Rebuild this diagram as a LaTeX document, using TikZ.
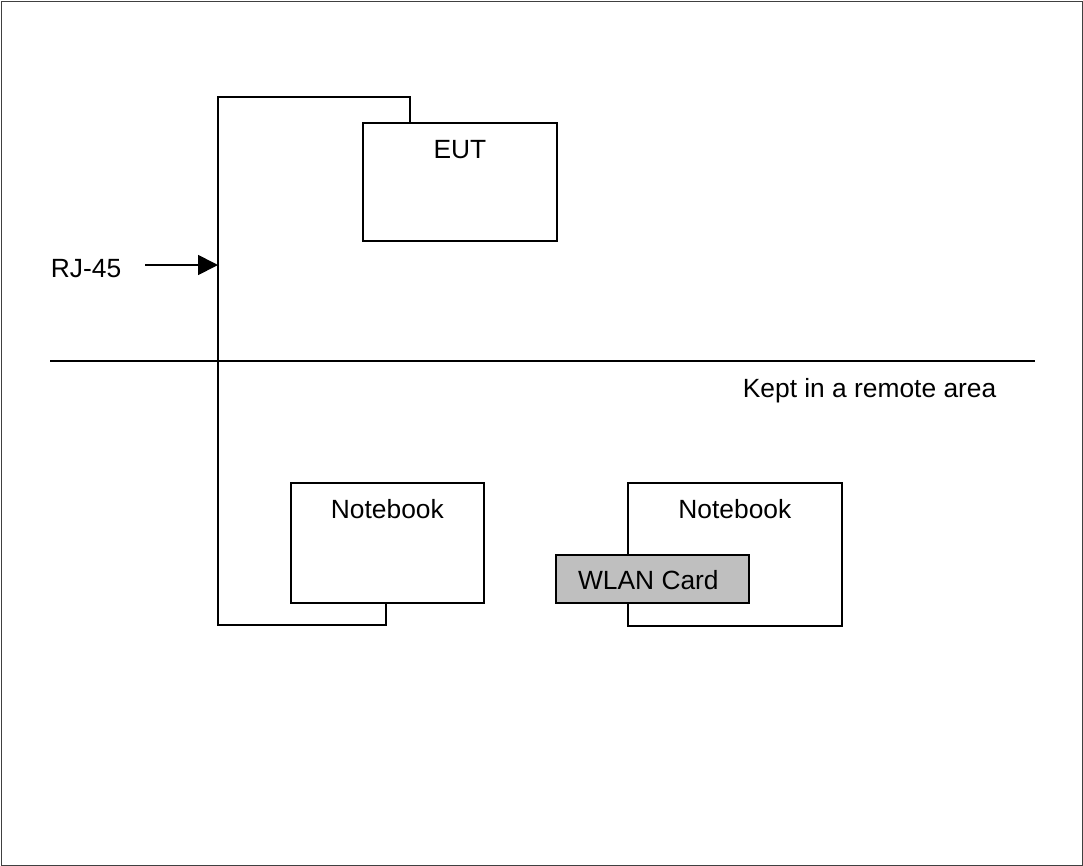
\documentclass[tikz,border=0pt]{standalone}
\usepackage{fontspec}
\setmainfont{Liberation Sans}
\usetikzlibrary{calc}
\usetikzlibrary{arrows.meta}
\tikzset{unit box/.style={draw,rectangle,inner sep=0pt,anchor=north west}}
\tikzset{unit text/.style={font=\fontsize{15}{18}\selectfont,inner sep=0pt}}

\begin{document}
\begin{tikzpicture}[x=0.02cm,y=-0.02cm,line width=1pt,line cap=rect]
	\useasboundingbox (0,0) rectangle (1083,866);
	\draw[line width=0.4pt,black!75] (1,1) rectangle (1082,865);

	% the units
	\node[unit box,minimum width=3.88cm,minimum height=2.36cm] (eut) at (362,122) {};
	\node[unit text,anchor=base] at ($(eut.north)+(0,36)$) {EUT};

	\node[unit box,minimum width=3.86cm,minimum height=2.4cm] (nbwired) at (290,482) {};
	\node[unit text,anchor=base] at ($(nbwired.north)+(0,36)$) {Notebook};

	\node[unit box,minimum width=4.28cm,minimum height=2.86cm] (nbwlan) at (627,482) {};
	\node[unit text,anchor=base] at ($(nbwlan.north)+(0,36)$) {Notebook};

	\node[unit box,fill=black!25,minimum width=3.86cm,minimum height=0.96cm] (wlan) at (555,554) {};
	\node[unit text,anchor=base] at ($(wlan.center)+(-4,11)$) {WLAN Card};

	% RJ-45 cable
	\coordinate (eutport) at ($(eut.north west)+(48,0)$);
	\coordinate (nbport) at ($(nbwired.south west)+(96,0)$);
	\coordinate (cabletop) at (218,97);
	\coordinate (cablebottom) at (218,625);
	\draw (eutport) |- (cabletop) -- (cablebottom) -| (nbport);

	\node[unit text,anchor=base west] (rj) at (50,277) {RJ-45};
	\coordinate (rjtail) at (145,265);
	\coordinate (rjtip) at (218,265);
	\draw[-{Triangle[length=0.4cm,width=0.4cm]},line cap=butt] (rjtail) -- (rjtip);

	% boundary of the remote area
	\coordinate (wallleft) at (50,361);
	\coordinate (wallright) at (1035,361);
	\draw[line cap=butt] (wallleft) -- (wallright);
	\node[unit text,anchor=base west] (remote) at (742,397) {Kept in a remote area};
\end{tikzpicture}
\end{document}
